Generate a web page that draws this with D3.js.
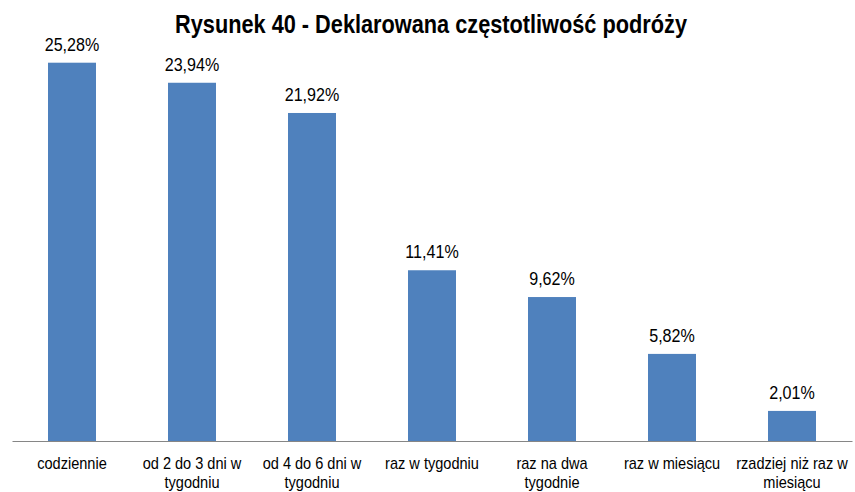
<!DOCTYPE html>
<html>
<head>
<meta charset="utf-8">
<script src="https://cdn.jsdelivr.net/npm/d3@7"></script>
<style>
  html, body { margin: 0; padding: 0; background: #fff; }
  svg { display: block; font-family: "Liberation Sans Narrow", "Arial Narrow", "Liberation Sans", Arial, sans-serif; }
</style>
</head>
<body>
<svg id="chart" width="855" height="492"></svg>
<script>
// Survey answers: declared travel frequency
const title = "Rysunek 40 - Deklarowana częstotliwość podróży";
const categories = [
  ["codziennie"],
  ["od 2 do 3 dni w", "tygodniu"],
  ["od 4 do 6 dni w", "tygodniu"],
  ["raz w tygodniu"],
  ["raz na dwa", "tygodnie"],
  ["raz w miesiącu"],
  ["rzadziej niż raz w", "miesiącu"]
];
const values = [25.28, 23.94, 21.92, 11.41, 9.62, 5.82, 2.01];
const valueLabels = ["25,28%", "23,94%", "21,92%", "11,41%", "9,62%", "5,82%", "2,01%"];

const svg = d3.select("#chart");
const left = 12, right = 852, baseY = 441, topY = 22;

const x = d3.scaleBand()
  .domain(d3.range(values.length))
  .range([left, right])
  .paddingInner(0.6)
  .paddingOuter(0.3);

const y = d3.scaleLinear().domain([0, 28]).range([baseY, topY]);
const cx = i => x(i) + x.bandwidth() / 2;

// condensed text: horizontally squeezed around its anchor point
function narrowText(g, px, py, sx) {
  return g.append("text")
    .attr("transform", `translate(${px},${py}) scale(${sx},1)`)
    .attr("x", 0).attr("y", 0)
    .attr("text-anchor", "middle")
    .attr("fill", "#000");
}

// title
narrowText(svg, 431, 33, 0.836)
  .attr("font-size", 26).attr("font-weight", "bold")
  .text(title);

// bars
svg.append("g").selectAll("rect")
  .data(values)
  .join("rect")
  .attr("x", (d, i) => x(i))
  .attr("width", x.bandwidth())
  .attr("y", d => y(d))
  .attr("height", d => baseY - y(d))
  .attr("fill", "#4F81BD");

// value labels
const labG = svg.append("g");
values.forEach((v, i) => {
  narrowText(labG, cx(i), y(v) - 12, 0.87)
    .attr("font-size", 18.5)
    .text(valueLabels[i]);
});

// category axis
const axis = d3.axisBottom(x).tickSize(0).tickFormat("");
const gAxis = svg.append("g").attr("transform", `translate(0,${baseY})`).call(axis);
gAxis.select(".domain").attr("stroke", "#868686").attr("stroke-width", 1);

const catG = svg.append("g");
categories.forEach((lines, i) => {
  const t = narrowText(catG, cx(i), 469, 0.91).attr("font-size", 16);
  lines.forEach((ln, j) => {
    t.append("tspan")
      .attr("x", 0)
      .attr("dy", j === 0 ? 0 : 19)
      .text(ln);
  });
});
</script>
</body>
</html>
